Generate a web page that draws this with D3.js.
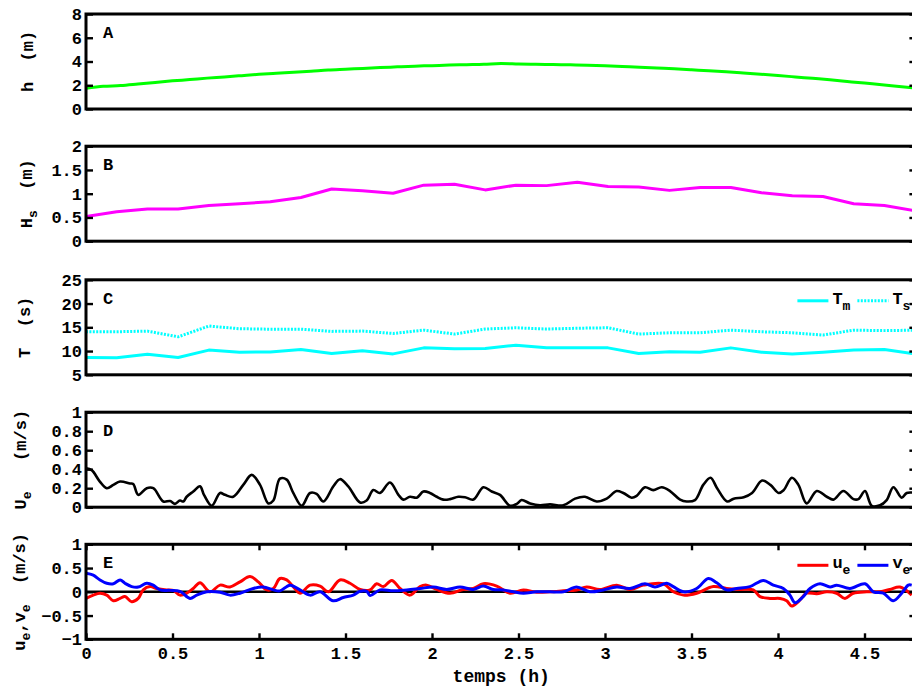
<!DOCTYPE html>
<html><head><meta charset="utf-8">
<script src="https://cdn.jsdelivr.net/npm/d3@7"></script>
<style>
html,body{margin:0;padding:0;background:#fff;overflow:hidden;}
svg{display:block;}
text{font-family:"Liberation Mono","Courier New",monospace;font-weight:bold;fill:#000;}
</style></head>
<body>
<svg id="chart" width="912" height="688"></svg>
<script>
// ---------- DATA ----------
const xTicks = [0, 0.5, 1, 1.5, 2, 2.5, 3, 3.5, 4, 4.5];

// Panel A: water depth h (m)
const hTime = [0,0.1,0.2,0.3,0.4,0.5,0.6,0.7,0.8,0.9,1.0,1.1,1.2,1.3,1.4,1.5,1.6,1.7,1.8,1.9,2.0,2.1,2.2,2.3,2.4,2.5,2.6,2.7,2.8,2.9,3.0,3.1,3.2,3.3,3.4,3.5,3.6,3.7,3.8,3.9,4.0,4.1,4.2,4.3,4.4,4.5,4.6,4.7,4.8];
const hVals = [1.75,1.92,1.97,2.1,2.24,2.37,2.48,2.6,2.7,2.81,2.92,3.01,3.09,3.18,3.28,3.35,3.42,3.49,3.55,3.61,3.65,3.7,3.73,3.76,3.83,3.79,3.76,3.74,3.72,3.69,3.64,3.58,3.52,3.45,3.38,3.3,3.22,3.13,3.03,2.93,2.82,2.7,2.58,2.46,2.32,2.18,2.05,1.9,1.76];

// Panels B & C: wave statistics
const waveTime = [0,0.1775,0.355,0.5325,0.71,0.8875,1.065,1.2425,1.42,1.5975,1.775,1.9525,2.13,2.3075,2.485,2.6625,2.84,3.0175,3.195,3.3725,3.55,3.7275,3.905,4.0825,4.26,4.4375,4.615,4.7925];
const hsVals = [0.52,0.62,0.68,0.68,0.75,0.79,0.83,0.92,1.10,1.06,1.01,1.18,1.2,1.08,1.18,1.17,1.24,1.15,1.14,1.07,1.13,1.13,1.02,0.955,0.94,0.79,0.75,0.64];
const tmVals = [8.64,8.6,9.34,8.64,10.2,9.76,9.8,10.33,9.48,10.04,9.4,10.67,10.46,10.54,11.24,10.67,10.7,10.67,9.48,9.83,9.75,10.67,9.75,9.4,9.76,10.2,10.33,9.4];
const tsVals = [14.06,14.06,14.2,13.0,15.26,14.7,14.6,14.6,14.14,14.2,13.7,14.4,13.57,14.63,14.9,14.63,14.8,14.9,13.57,13.85,13.85,14.4,14.06,13.85,13.36,14.4,14.3,14.4];

// Panel D: Ue (m/s)
const UeTime = [0,0.033,0.08,0.12,0.158,0.197,0.254,0.273,0.302,0.351,0.389,0.447,0.486,0.514,0.543,0.563,0.582,0.62,0.659,0.682,0.727,0.775,0.803,0.851,0.909,0.958,1.006,1.054,1.083,1.121,1.16,1.198,1.247,1.295,1.333,1.372,1.43,1.468,1.516,1.584,1.622,1.661,1.699,1.757,1.806,1.834,1.873,1.912,1.95,1.988,2.027,2.065,2.104,2.152,2.191,2.239,2.297,2.345,2.393,2.451,2.49,2.518,2.567,2.624,2.682,2.759,2.827,2.884,2.952,3.01,3.067,3.106,3.154,3.183,3.231,3.279,3.328,3.376,3.434,3.472,3.52,3.568,3.61,3.648,3.706,3.744,3.802,3.85,3.908,3.956,4.004,4.033,4.08,4.118,4.166,4.224,4.282,4.32,4.378,4.436,4.465,4.503,4.542,4.59,4.628,4.667,4.715,4.744,4.795];
const UeVals = [0.41,0.39,0.27,0.2,0.235,0.27,0.25,0.245,0.13,0.2,0.2,0.06,0.065,0.035,0.07,0.06,0.11,0.165,0.22,0.13,0.015,0.15,0.13,0.11,0.235,0.34,0.235,0.04,0.07,0.3,0.29,0.15,0.015,0.15,0.14,0.06,0.22,0.295,0.22,0.05,0.07,0.18,0.15,0.26,0.13,0.08,0.11,0.1,0.165,0.15,0.11,0.08,0.085,0.11,0.105,0.08,0.21,0.165,0.13,0.015,0.035,0.075,0.04,0.02,0.03,0.02,0.09,0.11,0.06,0.09,0.17,0.15,0.1,0.12,0.21,0.18,0.21,0.17,0.08,0.06,0.075,0.235,0.31,0.2,0.06,0.09,0.105,0.15,0.28,0.235,0.15,0.18,0.31,0.235,0.04,0.17,0.11,0.08,0.17,0.085,0.085,0.17,0.015,0.02,0.075,0.21,0.1,0.15,0.15];

// Panel E: ue (red) and ve (blue) (m/s)
const ueTime = [0,0.042,0.081,0.12,0.158,0.197,0.225,0.264,0.302,0.331,0.37,0.409,0.466,0.505,0.543,0.582,0.62,0.659,0.717,0.775,0.832,0.89,0.948,0.996,1.045,1.083,1.121,1.16,1.198,1.237,1.295,1.353,1.401,1.468,1.526,1.584,1.642,1.68,1.719,1.767,1.815,1.873,1.931,1.969,2.027,2.104,2.181,2.239,2.297,2.374,2.451,2.528,2.605,2.682,2.759,2.836,2.894,2.971,3.068,3.145,3.221,3.337,3.395,3.453,3.53,3.626,3.703,3.78,3.857,3.896,3.954,4.012,4.05,4.079,4.117,4.166,4.224,4.282,4.339,4.387,4.435,4.513,4.59,4.647,4.705,4.773];
const ueVals = [-0.14,-0.07,-0.03,-0.07,-0.19,-0.14,-0.1,-0.21,-0.14,0.04,0.11,0.07,0.04,0.03,-0.07,-0.03,0.07,0.19,0.0,0.14,0.1,0.21,0.32,0.21,0.04,0.07,0.28,0.25,0.11,-0.03,0.14,0.12,0.0,0.25,0.18,0.05,0.04,0.17,0.11,0.24,0.07,-0.07,0.11,0.14,0.05,-0.03,0.05,0.07,0.17,0.12,-0.03,0.04,-0.01,0.0,0.02,0.04,0.1,0.05,0.14,0.05,0.14,0.17,0.0,-0.07,-0.03,0.11,0.07,0.05,0.04,-0.1,-0.14,-0.14,-0.19,-0.3,-0.21,-0.03,-0.04,0.0,-0.03,-0.14,-0.03,0.0,0.0,0.05,0.1,-0.07];
const veTime = [0,0.042,0.081,0.12,0.158,0.197,0.225,0.264,0.302,0.351,0.389,0.428,0.486,0.543,0.601,0.64,0.698,0.775,0.832,0.89,0.967,1.025,1.083,1.121,1.179,1.237,1.295,1.353,1.429,1.487,1.545,1.584,1.623,1.642,1.699,1.776,1.854,1.931,2.008,2.085,2.162,2.239,2.297,2.354,2.412,2.47,2.528,2.605,2.682,2.759,2.836,2.913,2.99,3.068,3.145,3.231,3.289,3.357,3.395,3.453,3.53,3.597,3.646,3.703,3.761,3.838,3.915,3.973,4.031,4.069,4.098,4.146,4.185,4.243,4.301,4.339,4.416,4.503,4.551,4.609,4.666,4.715,4.753,4.773];
const veVals = [0.39,0.35,0.25,0.18,0.17,0.25,0.18,0.11,0.1,0.18,0.14,0.04,0.03,0.01,-0.14,-0.07,0.0,-0.01,-0.07,-0.03,0.07,0.1,0.04,0.02,0.14,0.04,-0.07,0.0,-0.19,-0.12,-0.07,0.01,0.01,-0.08,0.04,0.02,0.04,0.07,0.1,0.05,0.1,0.05,0.12,0.05,0.04,0.0,-0.03,0.0,0.0,0.0,0.1,0.0,0.04,0.1,0.07,0.17,0.1,0.18,0.11,0.0,0.07,0.28,0.19,0.04,0.07,0.11,0.24,0.14,0.07,-0.07,-0.23,-0.1,0.07,0.17,0.1,0.14,0.07,0.17,0.0,-0.03,-0.19,-0.03,0.14,0.14];

// ---------- LAYOUT ----------
const left = 86, right = 916.4;
const panelH = 95;
const svg = d3.select("#chart");

const x = d3.scaleLinear().domain([0, 4.8]).range([left, right]);

const panels = [
  {letter:"A", top:14,    domain:[0,8],   ticks:[0,2,4,6,8], labelX:33,
   label:[{t:"h  (m)"}],
   series:[{t:hTime, v:hVals, color:"#00ff00", curve:d3.curveMonotoneX}]},
  {letter:"B", top:146.2, domain:[0,2],   ticks:[0,0.5,1,1.5,2], labelX:32,
   label:[{t:"H"},{t:"s",sub:true},{t:"  (m)"}],
   series:[{t:waveTime, v:hsVals, color:"#ff00ff", curve:d3.curveLinear}]},
  {letter:"C", top:279.8, domain:[5,25],  ticks:[5,10,15,20,25], labelX:30,
   label:[{t:"T  (s)"}],
   series:[{t:waveTime, v:tmVals, color:"#00ffff", curve:d3.curveLinear, name:"T", sub:"m"},
           {t:waveTime, v:tsVals, color:"#00ffff", curve:d3.curveLinear, dash:"2,1.4", name:"T", sub:"s"}],
   legend:true},
  {letter:"D", top:412.2, domain:[0,1],   ticks:[0,0.2,0.4,0.6,0.8,1], labelX:26,
   label:[{t:"U"},{t:"e",sub:true},{t:"   (m/s)"}],
   series:[{t:UeTime, v:UeVals, color:"#000000", curve:d3.curveCatmullRom, width:2.6}]},
  {letter:"E", top:544.3, domain:[-1,1],  ticks:[-1,-0.5,0,0.5,1], labelX:25,
   label:[{t:"u"},{t:"e",sub:true},{t:",v",sub:false},{t:"e",sub:true},{t:"  (m/s)"}],
   series:[{t:ueTime, v:ueVals, color:"#ff0000", curve:d3.curveCatmullRom, name:"u", sub:"e"},
           {t:veTime, v:veVals, color:"#0000ff", curve:d3.curveCatmullRom, name:"v", sub:"e"}],
   legend:true, zeroLine:true, xAxis:true}
];

panels.forEach((p, i) => {
  const top = p.top, bottom = top + panelH;
  const y = d3.scaleLinear().domain(p.domain).range([bottom, top]);
  const g = svg.append("g");
  const clipId = "clip" + i;
  svg.append("clipPath").attr("id", clipId).append("rect")
     .attr("x", left).attr("y", top).attr("width", right-left).attr("height", panelH);

  if (p.zeroLine) {
    g.append("line").attr("x1", left).attr("x2", right)
     .attr("y1", y(0)).attr("y2", y(0)).attr("stroke","#000").attr("stroke-width",2.6);
  }

  const lg = g.append("g").attr("clip-path", `url(#${clipId})`);
  p.series.forEach(s => {
    const pts = s.t.map((t, k) => [t, s.v[k]]);
    lg.append("path").datum(pts)
      .attr("fill","none").attr("stroke", s.color)
      .attr("stroke-width", s.width || 3)
      .attr("stroke-linejoin","round")
      .attr("stroke-dasharray", s.dash || null)
      .attr("d", d3.line().x(d => x(d[0])).y(d => y(d[1])).curve(s.curve));
  });

  const fmt = d3.format("");
  const la = g.append("g").attr("transform", `translate(${left},0)`)
    .call(d3.axisLeft(y).tickValues(p.ticks).tickSize(-7).tickPadding(4).tickFormat(d => fmt(d)));
  la.select(".domain").remove();
  la.selectAll(".tick line").attr("stroke","#000").attr("stroke-width",2.4);
  la.selectAll(".tick text").style("font-size","17px").attr("fill","#000");

  const ra = g.append("g").attr("transform", `translate(${right},0)`)
    .call(d3.axisRight(y).tickValues(p.ticks).tickSize(-7).tickFormat(""));
  ra.select(".domain").remove();
  ra.selectAll(".tick line").attr("stroke","#000").attr("stroke-width",2.4);

  if (p.xAxis) {
    const ba = g.append("g").attr("transform", `translate(0,${bottom})`)
      .call(d3.axisBottom(x).tickValues(xTicks).tickSize(-6).tickPadding(8).tickFormat(d => fmt(d)));
    ba.select(".domain").remove();
    ba.selectAll(".tick line").attr("stroke","#000").attr("stroke-width",2.4);
    ba.selectAll(".tick text").style("font-size","17px").attr("fill","#000");
    const ta = g.append("g").attr("transform", `translate(0,${top})`)
      .call(d3.axisTop(x).tickValues(xTicks).tickSize(-6).tickFormat(""));
    ta.select(".domain").remove();
    ta.selectAll(".tick line").attr("stroke","#000").attr("stroke-width",2.4);
  }

  g.append("rect").attr("x", left).attr("y", top).attr("width", right-left).attr("height", panelH)
   .attr("fill","none").attr("stroke","#000").attr("stroke-width",3);

  g.append("text").attr("x", left + 17).attr("y", top + 24)
   .style("font-size","17px").text(p.letter);

  const cy = top + panelH/2;
  const yl = g.append("text")
    .attr("transform", `translate(${p.labelX},${cy}) rotate(-90)`)
    .attr("text-anchor","middle").style("font-size","17px")
    .attr("xml:space","preserve");
  let shifted = false;
  p.label.forEach(part => {
    const ts = yl.append("tspan").text(part.t);
    if (part.sub && !shifted) { ts.attr("dy", 5).style("font-size","13px"); shifted = true; }
    else if (!part.sub && shifted) { ts.attr("dy", -5); shifted = false; }
  });

  if (p.legend) {
    const ly = top + 21;
    p.series.forEach((s, k) => {
      const x0 = right - 119 + k * 60;
      g.append("line").attr("x1", x0).attr("x2", x0 + 31).attr("y1", ly).attr("y2", ly)
        .attr("stroke", s.color).attr("stroke-width", 3).attr("stroke-dasharray", s.dash || null);
      const t = g.append("text").attr("x", x0 + 35).attr("y", ly + 3).style("font-size","17px");
      t.append("tspan").text(s.name);
      t.append("tspan").attr("dy", 6).style("font-size","13px").text(s.sub);
    });
  }
});

svg.append("text").attr("x", (left + right) / 2).attr("y", 682)
  .attr("text-anchor","middle").style("font-size","18px").text("temps (h)");
</script>
</body></html>
